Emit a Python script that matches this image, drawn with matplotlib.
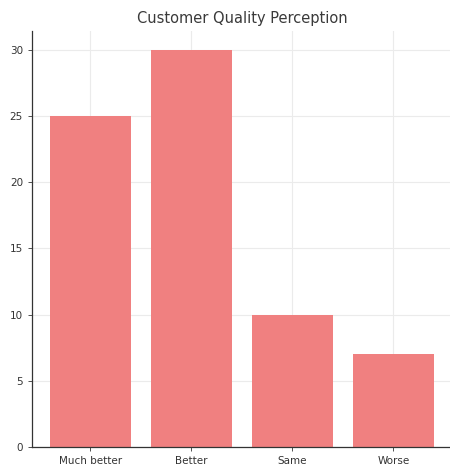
import matplotlib.pyplot as plt

categories = ['Much better', 'Better', 'Same', 'Worse']
counts = [25, 30, 10, 7]

fig = plt.figure(figsize=(4.5, 4.66), dpi=100)
ax = fig.add_axes([32 / 450, 19 / 466, 421 / 450, 416 / 466])

ax.bar(categories, counts, width=0.8, color='#f08080', zorder=2)
ax.set_xlim(-0.575, 3.59)
ax.set_ylim(0, 31.4)
ax.set_yticks([0, 5, 10, 15, 20, 25, 30])

ax.grid(True, color='#ebebeb', linewidth=0.8, zorder=0)
for side in ['top', 'right']:
    ax.spines[side].set_visible(False)
for side in ['left', 'bottom']:
    ax.spines[side].set_color('#333333')
    ax.spines[side].set_linewidth(0.9)
ax.tick_params(labelsize=7.5, colors='#333333', length=3, width=0.6)

ax.set_title('Customer Quality Perception', fontsize=10.5, color='#3a3a3a', pad=6)

fig.savefig('out.png', dpi=100)
